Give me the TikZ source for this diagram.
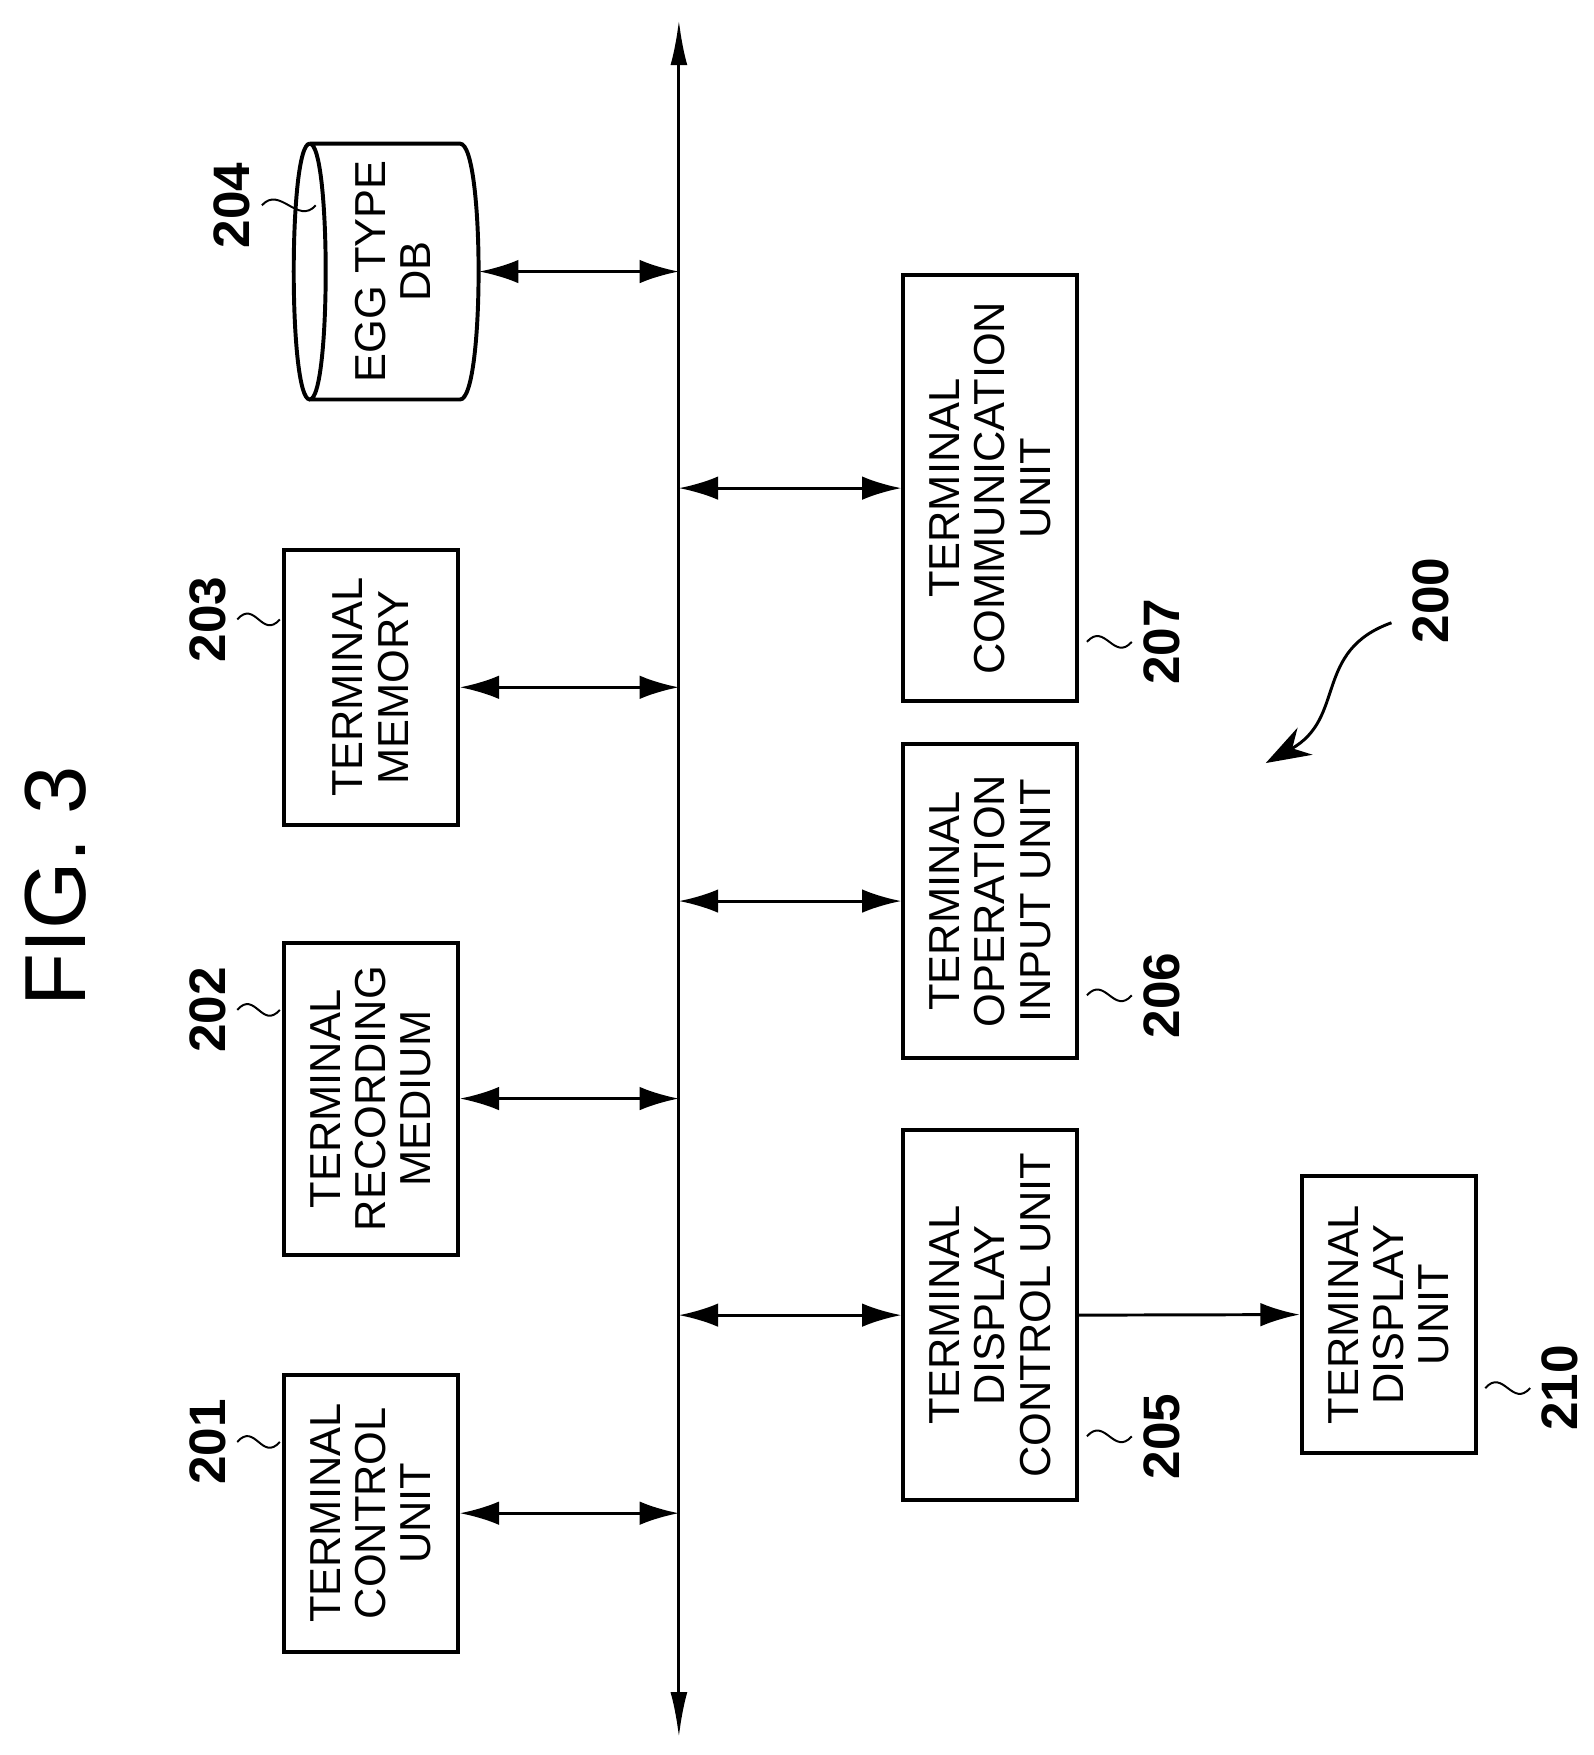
\documentclass[tikz,border=0pt]{standalone}
\usepackage{fontspec}
\setmainfont{Liberation Sans}
\usetikzlibrary{arrows.meta,positioning}
\tikzset{
  blk/.style={draw,line width=2pt,rotate=90,align=center,inner sep=0pt,
    font=\fontsize{22}{23}\selectfont},
  num/.style={rotate=90,font=\fontsize{26}{26}\selectfont\bfseries},
  link/.style={line width=1.5pt,{Latex[length=0.7cm,width=0.42cm]}-{Latex[length=0.7cm,width=0.42cm]}},
  squig/.style={line width=1pt}
}
\begin{document}
\begin{tikzpicture}[x=0.02cm,y=-0.02cm]
\useasboundingbox (0,0) rectangle (1420,1564);
% bus
\coordinate (bt) at (605,18);
\coordinate (bb) at (605,1548);
\draw[line width=1.5pt,{Latex[length=0.8cm,width=0.3cm]}-{Latex[length=0.8cm,width=0.3cm]}] (bt) -- (bb);
\node[rotate=90,font=\fontsize{44}{44}\selectfont] (fig) at (50,790) {FIG. 3};
% left column
\node[blk,minimum width=247*0.02cm,minimum height=155*0.02cm] (b201) at (330.5,1348.5) {TERMINAL\\CONTROL\\UNIT};
\node[blk,minimum width=278*0.02cm,minimum height=155*0.02cm] (b202) at (330.5,979) {TERMINAL\\RECORDING\\MEDIUM};
\node[blk,minimum width=245*0.02cm,minimum height=155*0.02cm] (b203) at (330.5,612.5) {TERMINAL\\MEMORY};
% database
\draw[line width=2pt] (276,128) -- (410,128) .. controls (432,128) and (432,356) .. (410,356) -- (276,356)
  (276,128) .. controls (257,128) and (257,356) .. (276,356) .. controls (295,356) and (295,128) .. (276,128);
\node[rotate=90,align=center,font=\fontsize{22}{23}\selectfont] (b204) at (350,242) {EGG TYPE\\DB};
\coordinate (db) at (427,242);
% right column
\node[blk,minimum width=380*0.02cm,minimum height=155*0.02cm] (b207) at (882.5,435) {TERMINAL\\COMMUNICATION\\UNIT};
\node[blk,minimum width=280*0.02cm,minimum height=155*0.02cm] (b206) at (882.5,803) {TERMINAL\\OPERATION\\INPUT UNIT};
\node[blk,minimum width=330*0.02cm,minimum height=155*0.02cm] (b205) at (882.5,1172) {TERMINAL\\DISPLAY\\CONTROL UNIT};
\node[blk,minimum width=247*0.02cm,minimum height=155*0.02cm] (b210) at (1237.5,1171.5) {TERMINAL\\DISPLAY\\UNIT};
% connectors
\draw[link] (b201.south) -- (b201.south -| bt);
\draw[link] (b202.south) -- (b202.south -| bt);
\draw[link] (b203.south) -- (b203.south -| bt);
\draw[link] (db) -- (db -| bt);
\draw[link] (b207.north -| bt) -- (b207.north);
\draw[link] (b206.north -| bt) -- (b206.north);
\draw[link] (b205.north -| bt) -- (b205.north);
\draw[line width=1.5pt,-{Latex[length=0.7cm,width=0.42cm]}] (b205.south) -- (b210.north);
% reference numerals
\node[num] (n201) at (185,1285) {201};
\node[num] (n202) at (185,900) {202};
\node[num] (n203) at (185,552) {203};
\node[num] (n204) at (207,183) {204};
\node[num] (n207) at (1035,572) {207};
\node[num] (n206) at (1035,887) {206};
\node[num] (n205) at (1035,1280) {205};
\node[num] (n210) at (1390,1237) {210};
\node[num] (n200) at (1275,535) {200};
\draw[squig] (n201.south) ++(4,0) .. controls ++(16,-18) and ++(-16,18) .. ++(38,0);
\draw[squig] (n202.south) ++(4,0) .. controls ++(16,-18) and ++(-16,18) .. ++(38,0);
\draw[squig] (n203.south) ++(4,0) .. controls ++(16,-18) and ++(-16,18) .. ++(38,0);
\draw[squig] (n204.south) ++(4,0) .. controls ++(16,-18) and ++(-16,18) .. ++(48,0);
\draw[squig] (n207.north) ++(-4,0) .. controls ++(-16,18) and ++(16,-18) .. ++(-40,0);
\draw[squig] (n206.north) ++(-4,0) .. controls ++(-16,18) and ++(16,-18) .. ++(-40,0);
\draw[squig] (n205.north) ++(-4,0) .. controls ++(-16,18) and ++(16,-18) .. ++(-40,0);
\draw[squig] (n210.north) ++(-4,0) .. controls ++(-16,18) and ++(16,-18) .. ++(-40,0);
\coordinate (p200) at (1128,680);
\draw[line width=1.5pt,-{Stealth[length=0.8cm,width=0.55cm]}] (1240,555) .. controls (1170,580) and (1200,640) .. (p200);
\end{tikzpicture}
\end{document}
